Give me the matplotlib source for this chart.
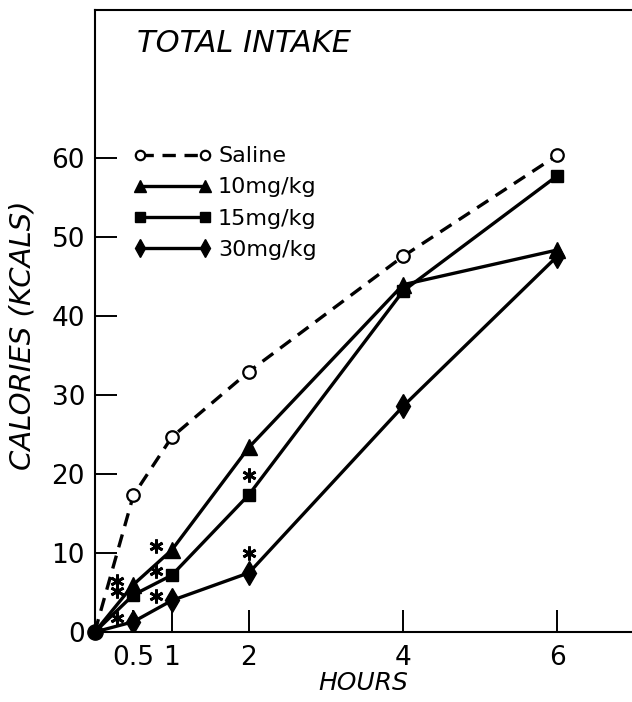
#!/usr/bin/env python3
"""Total caloric intake over 6 h: saline vs three drug doses (cumulative kcal)."""
import matplotlib
matplotlib.use("Agg")
import matplotlib.pyplot as plt
import matplotlib.transforms as mtransforms

hours = [0, 0.5, 1, 2, 4, 6]
saline = [0, 17.3, 24.7, 33.0, 47.6, 60.4]
dose_10 = [0, 6.0, 10.4, 23.4, 44.0, 48.4]
dose_15 = [0, 4.7, 7.2, 17.4, 43.2, 57.8]
dose_30 = [0, 1.3, 4.0, 7.5, 28.6, 47.6]

# hours at which each dose differed significantly from saline (asterisks)
stars_10 = [0.5, 1]
stars_15 = [0.5, 1, 2]
stars_30 = [0.5, 1, 2]

x_ticks = [0.5, 1, 2, 4, 6]
x_ticklabels = ["0.5", "1", "2", "4", "6"]
y_ticks = [0, 10, 20, 30, 40, 50, 60]

FONT = "DejaVu Sans"

fig = plt.figure(figsize=(6.32, 7.02), dpi=100)
ax = fig.add_axes([0.150, 0.0997, 0.85, 0.886])

lw = 2.4
skip0 = slice(1, None)  # shared start point is drawn once as a solid dot
ax.plot(hours, saline, color="black", lw=lw, ls=(0, (4, 2.6)), marker="o", markevery=skip0,
        ms=9, mfc="white", mec="black", mew=1.6, label="Saline", zorder=3)
ax.plot(hours, dose_10, color="black", lw=lw, marker="^", ms=11, markevery=skip0,
        label="10mg/kg", zorder=4)
ax.plot(hours, dose_15, color="black", lw=lw, marker="s", ms=9, markevery=skip0,
        label="15mg/kg", zorder=4)
ax.plot(hours, dose_30, color="black", lw=lw, marker="d", ms=12, markevery=skip0,
        label="30mg/kg", zorder=4)
ax.plot([hours[0]], [dose_30[0]], "o", color="black", ms=11, zorder=5, clip_on=False)


# SHORT EXPLANATION: asterisks sit left of the point for early hours, above it later
def star_offset(h):
    if h < 2:
        return -16, 4
    return 0, 20


for series, stars in ((dose_10, stars_10), (dose_15, stars_15), (dose_30, stars_30)):
    for h in stars:
        dx, dy = star_offset(h)
        tr = mtransforms.offset_copy(ax.transData, fig=fig, x=dx, y=dy, units="dots")
        ax.plot([h], [series[hours.index(h)]], marker=(6, 2, 0), ms=10, mew=2.0,
                color="black", transform=tr, zorder=6)

ax.set_xlim(0, 6.97)
ax.set_ylim(0, 78.8)
ax.set_xticks(x_ticks)
ax.set_xticklabels(x_ticklabels)
ax.set_yticks(y_ticks)
ax.tick_params(direction="in", length=16, width=1.4, labelsize=19, pad=7)
ax.tick_params(axis="x", pad=9)
for lab in ax.get_xticklabels() + ax.get_yticklabels():
    lab.set_family(FONT)
ax.spines["right"].set_visible(False)
for s in ("left", "top", "bottom"):
    ax.spines[s].set_linewidth(1.5)

ax.set_xlabel("HOURS", fontsize=18, style="italic", family=FONT, labelpad=0)
ax.set_ylabel("CALORIES (KCALS)", fontsize=21, style="italic", family=FONT)
ax.yaxis.set_label_coords(-0.108, 0.477)
ax.text(0.55, 74.6, "TOTAL INTAKE", fontsize=22, style="italic", family=FONT,
        va="center", ha="left")

leg = ax.legend(loc="upper left", bbox_to_anchor=(0.035, 0.813), frameon=False,
                numpoints=2, handlelength=3.5, handletextpad=0.3, labelspacing=0.5,
                markerscale=0.75, prop={"family": FONT, "size": 16})

fig.savefig("out.png", dpi=100)
